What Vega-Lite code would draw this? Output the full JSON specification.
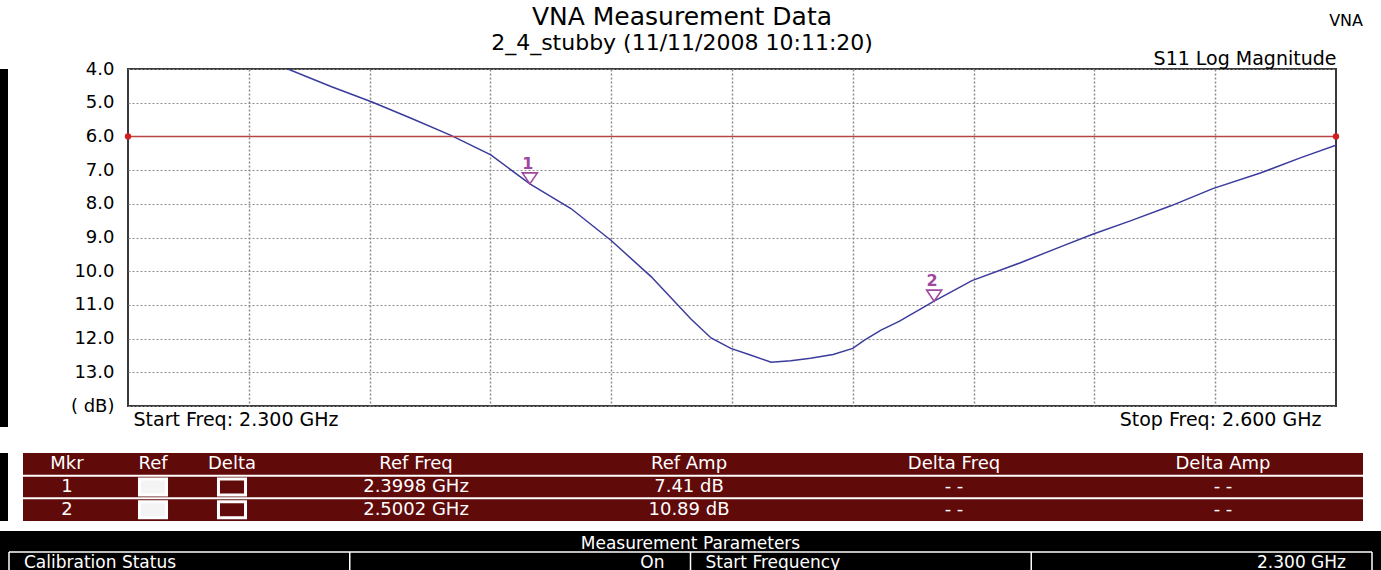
{
  "$schema": "https://vega.github.io/schema/vega-lite/v6.json",
  "background": "white",
  "padding": {"left": 0, "top": 4, "right": 0, "bottom": 0},
  "spacing": 7,
  "config": {
    "font": "DejaVu Sans",
    "view": {"stroke": null},
    "axis": {"labelFont": "DejaVu Sans", "titleFont": "DejaVu Sans"},
    "title": {"font": "DejaVu Sans", "subtitleFont": "DejaVu Sans"}
  },
  "title": {"text": "VNA", "anchor": "end", "frame": "bounds", "fontSize": 16, "fontWeight": "normal", "color": "black", "offset": -25, "dx": -18},
  "datasets": {
    "trace": [
      {"freq": 2.3397, "db": 4.00}, {"freq": 2.3504, "db": 4.52}, {"freq": 2.3606, "db": 4.98},
      {"freq": 2.3703, "db": 5.46}, {"freq": 2.3802, "db": 5.97}, {"freq": 2.3901, "db": 6.55},
      {"freq": 2.3998, "db": 7.41}, {"freq": 2.4100, "db": 8.14}, {"freq": 2.4200, "db": 9.09},
      {"freq": 2.4299, "db": 10.16}, {"freq": 2.4398, "db": 11.42}, {"freq": 2.4448, "db": 11.98},
      {"freq": 2.4497, "db": 12.29}, {"freq": 2.4542, "db": 12.47}, {"freq": 2.4597, "db": 12.70},
      {"freq": 2.4646, "db": 12.66}, {"freq": 2.4695, "db": 12.58}, {"freq": 2.4751, "db": 12.47},
      {"freq": 2.4800, "db": 12.29}, {"freq": 2.4828, "db": 12.05}, {"freq": 2.4870, "db": 11.75},
      {"freq": 2.4915, "db": 11.49}, {"freq": 2.5002, "db": 10.89}, {"freq": 2.5096, "db": 10.28},
      {"freq": 2.5218, "db": 9.74}, {"freq": 2.5317, "db": 9.27}, {"freq": 2.5394, "db": 8.91},
      {"freq": 2.5491, "db": 8.50}, {"freq": 2.5590, "db": 8.06}, {"freq": 2.5694, "db": 7.55},
      {"freq": 2.5814, "db": 7.08}, {"freq": 2.5913, "db": 6.63}, {"freq": 2.6000, "db": 6.26}
    ],
    "limit": [{"freq": 2.3, "db": 6.0}, {"freq": 2.6, "db": 6.0}],
    "markers": [{"mkr": "1", "freq": 2.3998, "db": 7.41}, {"mkr": "2", "freq": 2.5002, "db": 10.89}],
    "cells": [
      {"row": "head", "column": 1, "text": "Mkr"},
      {"row": "head", "column": 2, "text": "Ref"},
      {"row": "head", "column": 3, "text": "Delta"},
      {"row": "head", "column": 4, "text": "Ref Freq"},
      {"row": "head", "column": 5, "text": "Ref Amp"},
      {"row": "head", "column": 6, "text": "Delta Freq"},
      {"row": "head", "column": 7, "text": "Delta Amp"},
      {"row": "1", "column": 1, "text": "1"},
      {"row": "1", "column": 4, "text": "2.3998 GHz"},
      {"row": "1", "column": 5, "text": "7.41 dB"},
      {"row": "1", "column": 6, "text": "- -"},
      {"row": "1", "column": 7, "text": "- -"},
      {"row": "2", "column": 1, "text": "2"},
      {"row": "2", "column": 4, "text": "2.5002 GHz"},
      {"row": "2", "column": 5, "text": "10.89 dB"},
      {"row": "2", "column": 6, "text": "- -"},
      {"row": "2", "column": 7, "text": "- -"}
    ],
    "boxes": [
      {"row": "1", "column": 2, "kind": "ref"},
      {"row": "1", "column": 3, "kind": "delta"},
      {"row": "2", "column": 2, "kind": "ref"},
      {"row": "2", "column": 3, "kind": "delta"}
    ],
    "seps": [{"after": 1}, {"after": 2}],
    "edges": [{"edge": "b0"}, {"edge": "b1"}, {"edge": "b2"}, {"edge": "b3"}, {"edge": "b4"}],
    "params": [
      {"name": "Calibration Status", "value": "On", "start": "b0", "end": "b2"},
      {"name": "Start Frequency", "value": "2.300 GHz", "start": "b2", "end": "b4"}
    ],
    "ptitle": [{"text": "Measurement Parameters", "at": "b2"}]
  },
  "vconcat": [
    {
      "spacing": 23,
      "vconcat": [
        {
          "spacing": 44,
          "hconcat": [
            {
              "width": 8, "height": 358,
              "view": {"fill": "black", "stroke": null},
              "data": {"values": []},
              "mark": {"type": "point", "opacity": 0}
            },
            {
              "width": 1208,
              "height": 337,
              "view": {"stroke": "#3a3a3a", "strokeWidth": 2, "fill": "white"},
              "title": {
                "text": "VNA Measurement Data",
                "subtitle": "2_4_stubby (11/11/2008 10:11:20)",
                "fontSize": 25, "subtitleFontSize": 22, "fontWeight": "normal",
                "color": "black", "subtitleColor": "black",
                "anchor": "middle", "frame": "group", "dx": -50, "offset": -5, "subtitlePadding": 3
              },
              "resolve": {"axis": {"x": "independent"}},
              "encoding": {
                "y": {
                  "field": "db", "type": "quantitative",
                  "scale": {"domain": [4, 14], "reverse": true, "nice": false, "zero": false},
                  "axis": {
                    "values": [4, 5, 6, 7, 8, 9, 10, 11, 12, 13, 14],
                    "labelExpr": "datum.value >= 14 ? '( dB)' : format(datum.value, '.1f')",
                    "labelOverlap": false,
                    "grid": true, "gridColor": "#8c8c8c", "gridDash": [2, 2], "gridWidth": 1,
                    "ticks": false, "domain": false, "title": null,
                    "labelFontSize": 18, "labelColor": "black", "labelPadding": 14,
                    "minExtent": 75, "maxExtent": 75
                  }
                }
              },
              "layer": [
                {
                  "data": {"name": "trace"},
                  "mark": {"type": "line", "color": "#3b3b9e", "strokeWidth": 1.5, "clip": true},
                  "encoding": {
                    "x": {
                      "field": "freq", "type": "quantitative",
                      "scale": {"domain": [2.3, 2.6], "nice": false, "zero": false},
                      "axis": {
                        "orient": "bottom", "values": [2.3, 2.6],
                        "labelExpr": "datum.value < 2.45 ? 'Start Freq: 2.300 GHz' : 'Stop Freq: 2.600 GHz'",
                        "labelAlign": {"condition": {"test": "datum.value < 2.45", "value": "left"}, "value": "right"},
                        "labelOffset": {"condition": {"test": "datum.value < 2.45", "value": 5}, "value": -15},
                        "labelFlush": false, "labelOverlap": false, "labelLimit": 0,
                        "grid": false, "ticks": false, "domain": false, "title": null,
                        "labelFontSize": 19, "labelColor": "black", "labelPadding": 4, "labelBaseline": "top"
                      }
                    }
                  }
                },
                {
                  "data": {"name": "limit"},
                  "mark": {"type": "line", "color": "#b84545", "strokeWidth": 1.5},
                  "encoding": {
                    "x": {
                      "field": "freq", "type": "quantitative",
                      "axis": {
                        "orient": "top",
                        "values": [2.33, 2.36, 2.39, 2.42, 2.45, 2.48, 2.51, 2.54, 2.57],
                        "grid": true, "gridColor": "#8c8c8c", "gridDash": [2, 2], "gridWidth": 1.5,
                        "labels": false, "ticks": false, "domain": false,
                        "title": "S11 Log Magnitude", "titleFontSize": 19, "titleFontWeight": "normal",
                        "titleColor": "black", "titleAnchor": "end", "titlePadding": 1
                      }
                    }
                  }
                },
                {
                  "data": {"name": "limit"},
                  "mark": {"type": "point", "filled": true, "color": "#d02020", "size": 40, "opacity": 1},
                  "encoding": {
                    "x": {"field": "freq", "type": "quantitative", "axis": null}
                  }
                },
                {
                  "data": {"name": "markers"},
                  "mark": {"type": "point", "shape": "M-1.25,-0.92L1.25,-0.92L0,0.92Z", "size": 144, "filled": false, "stroke": "#a0479f", "strokeWidth": 1.6, "opacity": 1, "yOffset": -5.5},
                  "encoding": {
                    "x": {"field": "freq", "type": "quantitative", "axis": null}
                  }
                },
                {
                  "data": {"name": "markers"},
                  "mark": {"type": "text", "color": "#a0479f", "fontSize": 16, "fontWeight": "bold", "dy": -20, "dx": -2},
                  "encoding": {
                    "x": {"field": "freq", "type": "quantitative", "axis": null},
                    "text": {"field": "mkr"}
                  }
                }
              ]
            }
          ]
        },
        {
          "spacing": 14,
          "hconcat": [
            {
              "width": 8, "height": 68,
              "view": {"fill": "black", "stroke": null},
              "data": {"values": []},
              "mark": {"type": "point", "opacity": 0}
            },
            {
              "width": 1340,
              "height": 68,
              "view": {"fill": "#600a0a", "stroke": null},
              "resolve": {"scale": {"y": "independent"}},
              "layer": [
                {
                  "data": {"name": "seps"},
                  "mark": {"type": "rule", "color": "white", "strokeWidth": 2},
                  "encoding": {
                    "y": {
                      "field": "after", "type": "quantitative",
                      "scale": {"domain": [0, 3], "reverse": true, "nice": false, "zero": false},
                      "axis": null
                    }
                  }
                },
                {
                  "data": {"name": "boxes"},
                  "mark": {"type": "point", "shape": "M-1.69,-1L1.69,-1L1.69,1L-1.69,1Z", "size": 256, "filled": true, "stroke": "white", "strokeWidth": 3, "opacity": 1},
                  "encoding": {
                    "x": {
                      "field": "column", "type": "quantitative",
                      "scale": {"domain": [1, 2, 3, 4, 5, 6, 7], "range": [44, 130, 209, 393, 666, 931, 1200]},
                      "axis": null
                    },
                    "y": {"field": "row", "type": "ordinal", "scale": {"type": "point", "domain": ["head", "1", "2"], "padding": 0.5}, "axis": null},
                    "fill": {"field": "kind", "type": "nominal", "scale": {"domain": ["ref", "delta"], "range": ["#f4f4f4", "#600a0a"]}, "legend": null}
                  }
                },
                {
                  "data": {"name": "cells"},
                  "mark": {"type": "text", "color": "white", "fontSize": 18, "baseline": "middle"},
                  "encoding": {
                    "x": {"field": "column", "type": "quantitative", "axis": null},
                    "y": {"field": "row", "type": "ordinal", "scale": {"type": "point", "domain": ["head", "1", "2"], "padding": 0.5}, "axis": null},
                    "text": {"field": "text"}
                  }
                }
              ]
            }
          ]
        }
      ]
    },
    {
      "width": 1381,
      "height": 42,
      "view": {"fill": "black", "stroke": null},
      "resolve": {"scale": {"y": "independent"}},
      "layer": [
        {
          "data": {"name": "edges"},
          "mark": {"type": "rule", "color": "white", "strokeWidth": 1.5},
          "encoding": {
            "x": {"field": "edge", "type": "nominal", "scale": {"type": "point", "domain": ["b0", "b1", "b2", "b3", "b4"], "padding": 0.0264}, "axis": null},
            "y": {"datum": 1, "type": "quantitative", "scale": {"domain": [0, 2], "reverse": true, "nice": false, "zero": false}, "axis": null},
            "y2": {"datum": 2}
          }
        },
        {
          "data": {"name": "ptitle"},
          "mark": {"type": "rule", "color": "white", "strokeWidth": 1.5},
          "encoding": {
            "x": {"datum": "b0", "type": "nominal"},
            "x2": {"datum": "b4"},
            "y": {"datum": 1, "type": "quantitative", "scale": {"domain": [0, 2], "reverse": true, "nice": false, "zero": false}, "axis": null}
          }
        },
        {
          "data": {"name": "ptitle"},
          "mark": {"type": "text", "color": "white", "fontSize": 17, "align": "center", "baseline": "middle", "dy": 2},
          "encoding": {
            "x": {"field": "at", "type": "nominal"},
            "y": {"datum": "title", "type": "ordinal", "scale": {"type": "point", "domain": ["title", "param"], "padding": 0.5}, "axis": null},
            "text": {"field": "text"}
          }
        },
        {
          "data": {"name": "params"},
          "mark": {"type": "text", "color": "white", "fontSize": 17, "align": "left", "baseline": "middle", "dx": 15},
          "encoding": {
            "x": {"field": "start", "type": "nominal"},
            "y": {"datum": "param", "type": "ordinal", "scale": {"type": "point", "domain": ["title", "param"], "padding": 0.5}, "axis": null},
            "text": {"field": "name"}
          }
        },
        {
          "data": {"name": "params"},
          "mark": {"type": "text", "color": "white", "fontSize": 17, "align": "right", "baseline": "middle", "dx": -26},
          "encoding": {
            "x": {"field": "end", "type": "nominal"},
            "y": {"datum": "param", "type": "ordinal", "scale": {"type": "point", "domain": ["title", "param"], "padding": 0.5}, "axis": null},
            "text": {"field": "value"}
          }
        }
      ]
    }
  ]
}
